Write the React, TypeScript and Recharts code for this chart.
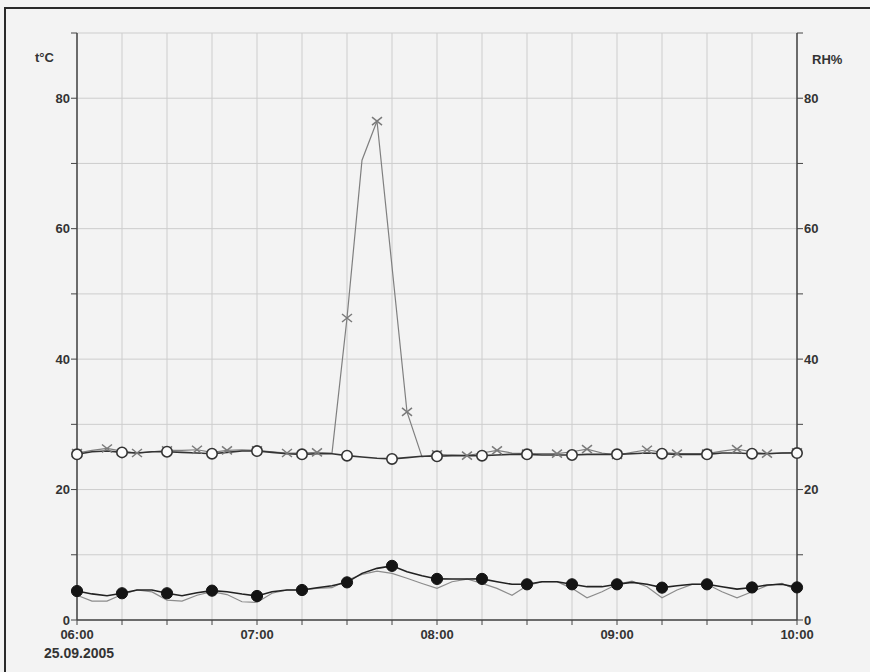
import React from "react";
import { LineChart, Line, XAxis, YAxis, CartesianGrid } from "recharts";

const times = [
  "06:00","06:05","06:10","06:15","06:20","06:25","06:30","06:35","06:40","06:45","06:50","06:55",
  "07:00","07:05","07:10","07:15","07:20","07:25","07:30","07:35","07:40","07:45","07:50","07:55",
  "08:00","08:05","08:10","08:15","08:20","08:25","08:30","08:35","08:40","08:45","08:50","08:55",
  "09:00","09:05","09:10","09:15","09:20","09:25","09:30","09:35","09:40","09:45","09:50","09:55",
  "10:00",
];

// lower black line with filled circles
const tempBlack = [
  4.44, 4.0, 3.73, 4.1, 4.6, 4.6, 4.1, 3.73, 4.19, 4.5, 4.34, 3.98,
  3.68, 4.34, 4.6, 4.6, 4.95, 5.26, 5.77, 7.15, 7.92, 8.3, 7.4, 6.79,
  6.3, 6.28, 6.28, 6.3, 5.87, 5.47, 5.47, 5.87, 5.87, 5.47, 5.11, 5.11,
  5.47, 5.77, 5.47, 4.96, 5.26, 5.47, 5.47, 5.11, 4.74, 4.99, 5.36, 5.47,
  5.0,
];

// lower thin gray line
const tempGray = [
  3.8, 2.9, 2.9, 3.9, 4.6, 4.3, 3.06, 2.9, 3.8, 4.34, 3.9, 2.8,
  2.7, 4.1, 4.6, 4.6, 4.85, 4.95, 6.1, 7.0, 7.5, 7.15, 6.4, 5.6,
  4.85, 5.87, 6.28, 5.62, 4.85, 3.8, 5.26, 5.87, 5.87, 4.85, 3.4, 4.34,
  5.47, 5.97, 5.11, 3.4, 4.6, 5.47, 5.47, 4.34, 3.4, 4.34, 5.26, 5.6,
  4.6,
];

// upper black line with open circles
const rhBlack = [
  25.4, 25.8, 25.9, 25.7, 25.6, 25.8, 25.8, 25.7, 25.6, 25.5, 25.7, 25.9,
  25.9, 25.7, 25.5, 25.4, 25.5, 25.5, 25.2, 25.0, 24.8, 24.7, 24.9, 25.1,
  25.1, 25.2, 25.2, 25.2, 25.3, 25.4, 25.4, 25.3, 25.3, 25.3, 25.4, 25.4,
  25.4, 25.5, 25.6, 25.5, 25.4, 25.4, 25.4, 25.6, 25.6, 25.5, 25.5, 25.6,
  25.6,
];

// upper gray line with x markers
const rhGray = [
  25.6, 26.0, 26.3, 25.9, 25.6, 25.8, 26.0, 26.0, 26.1, 25.7, 26.0, 26.1,
  26.0, 25.8, 25.6, 25.6, 25.7, 25.6, 46.3, 70.5, 76.5, 54.2, 31.9, 25.0,
  25.4, 25.3, 25.2, 25.6, 26.0, 25.6, 25.5, 25.5, 25.5, 25.8, 26.2, 25.6,
  25.3, 25.7, 26.1, 25.7, 25.5, 25.5, 25.5, 25.9, 26.2, 25.8, 25.5, 25.6,
  25.7,
];

const yTicks = [0, 10, 20, 30, 40, 50, 60, 70, 80, 90];
const yLabels = [0, 20, 40, 60, 80];
const dateLabel = "25.09.2005";
const leftTitle = "t\u00b0C";
const rightTitle = "RH%";

const toMin = (s: string) => {
  const [h, m] = s.split(":").map(Number);
  return (h - 6) * 60 + m;
};
const fromMin = (v: number) => {
  const h = 6 + Math.floor(v / 60);
  const m = v % 60;
  return `${String(h).padStart(2, "0")}:${String(m).padStart(2, "0")}`;
};

const data = times.map((t, i) => ({
  t: toMin(t),
  tempBlack: tempBlack[i],
  tempGray: tempGray[i],
  rhBlack: rhBlack[i],
  rhGray: rhGray[i],
}));

const xTicks = times.map(toMin).filter((v) => v % 15 === 0);

const FilledDot = (props: any) => {
  const { cx, cy, index } = props;
  if (index % 3 !== 0 || cx == null || cy == null) return <g key={`fd${index}`} />;
  return <circle key={`fd${index}`} cx={cx} cy={cy} r={5.6} fill="#141414" stroke="#141414" strokeWidth={1} />;
};

const OpenDot = (props: any) => {
  const { cx, cy, index } = props;
  if (index % 3 !== 0 || cx == null || cy == null) return <g key={`od${index}`} />;
  return <circle key={`od${index}`} cx={cx} cy={cy} r={5.2} fill="#fbfbfb" stroke="#333" strokeWidth={1.6} />;
};

const CrossDot = (props: any) => {
  const { cx, cy, index } = props;
  if (index % 2 !== 0 || cx == null || cy == null) return <g key={`cd${index}`} />;
  const w = 5, h = 4;
  return (
    <path
      key={`cd${index}`}
      d={`M${cx - w},${cy - h}L${cx + w},${cy + h}M${cx - w},${cy + h}L${cx + w},${cy - h}`}
      stroke="#7a7a7a"
      strokeWidth={1.5}
      fill="none"
    />
  );
};

const tickStyle = { fontFamily: "Liberation Sans, Arial, sans-serif", fontSize: 13, fontWeight: 700, fill: "#333" };

export default function App() {
  return (
    <div
      style={{
        position: "absolute",
        left: 0,
        top: 0,
        width: 870,
        height: 672,
        background: "#f3f3f3",
        overflow: "hidden",
        fontFamily: "Liberation Sans, Arial, sans-serif",
      }}
    >
      <div
        style={{
          position: "absolute",
          left: 4,
          top: 7,
          width: 880,
          height: 700,
          borderLeft: "2px solid #2a2a2a",
          borderTop: "2px solid #2a2a2a",
        }}
      />
      <div style={{ position: "absolute", left: 0, top: 0 }}>
        <LineChart
          width={870}
          height={672}
          data={data}
          margin={{ top: 33, right: 33, left: 37, bottom: 22 }}
        >
          <CartesianGrid yAxisId="left" stroke="#cdcdcd" strokeWidth={1} />
          <XAxis
            dataKey="t"
            type="number"
            domain={[0, 240]}
            ticks={xTicks}
            tickFormatter={(v: number) => (v % 60 === 0 ? fromMin(v) : "")}
            interval={0}
            height={30}
            tickSize={5}
            tickMargin={5}
            axisLine={{ stroke: "#444", strokeWidth: 1.5 }}
            tickLine={{ stroke: "#444" }}
            tick={tickStyle}
          />
          <YAxis
            yAxisId="left"
            domain={[0, 90]}
            ticks={yTicks}
            interval={0}
            width={40}
            tickSize={6}
            tickMargin={1}
            tickFormatter={(v: number) => (yLabels.includes(v) ? String(v) : "")}
            axisLine={{ stroke: "#444", strokeWidth: 1.5 }}
            tickLine={{ stroke: "#444" }}
            tick={tickStyle}
          />
          <YAxis
            yAxisId="right"
            orientation="right"
            domain={[0, 90]}
            ticks={yTicks}
            interval={0}
            width={40}
            tickSize={6}
            tickMargin={1}
            tickFormatter={(v: number) => (yLabels.includes(v) ? String(v) : "")}
            axisLine={{ stroke: "#444", strokeWidth: 1.5 }}
            tickLine={{ stroke: "#444" }}
            tick={tickStyle}
          />
          <Line
            yAxisId="left"
            dataKey="tempGray"
            stroke="#8c8c8c"
            strokeWidth={1.2}
            dot={false}
            isAnimationActive={false}
          />
          <Line
            yAxisId="left"
            dataKey="tempBlack"
            stroke="#222"
            strokeWidth={1.6}
            dot={FilledDot}
            activeDot={false}
            isAnimationActive={false}
          />
          <Line
            yAxisId="right"
            dataKey="rhGray"
            stroke="#7f7f7f"
            strokeWidth={1.2}
            dot={CrossDot}
            activeDot={false}
            isAnimationActive={false}
          />
          <Line
            yAxisId="right"
            dataKey="rhBlack"
            stroke="#333"
            strokeWidth={1.6}
            dot={OpenDot}
            activeDot={false}
            isAnimationActive={false}
          />
        </LineChart>
      </div>
      <div style={{ position: "absolute", left: 35, top: 51, fontSize: 13, fontWeight: 700, color: "#333", lineHeight: "13px" }}>
        {leftTitle}
      </div>
      <div style={{ position: "absolute", left: 812, top: 53, fontSize: 13, fontWeight: 700, color: "#333", lineHeight: "13px" }}>
        {rightTitle}
      </div>
      <div style={{ position: "absolute", left: 44, top: 646, fontSize: 14, fontWeight: 700, color: "#333", lineHeight: "14px" }}>
        {dateLabel}
      </div>
    </div>
  );
}
